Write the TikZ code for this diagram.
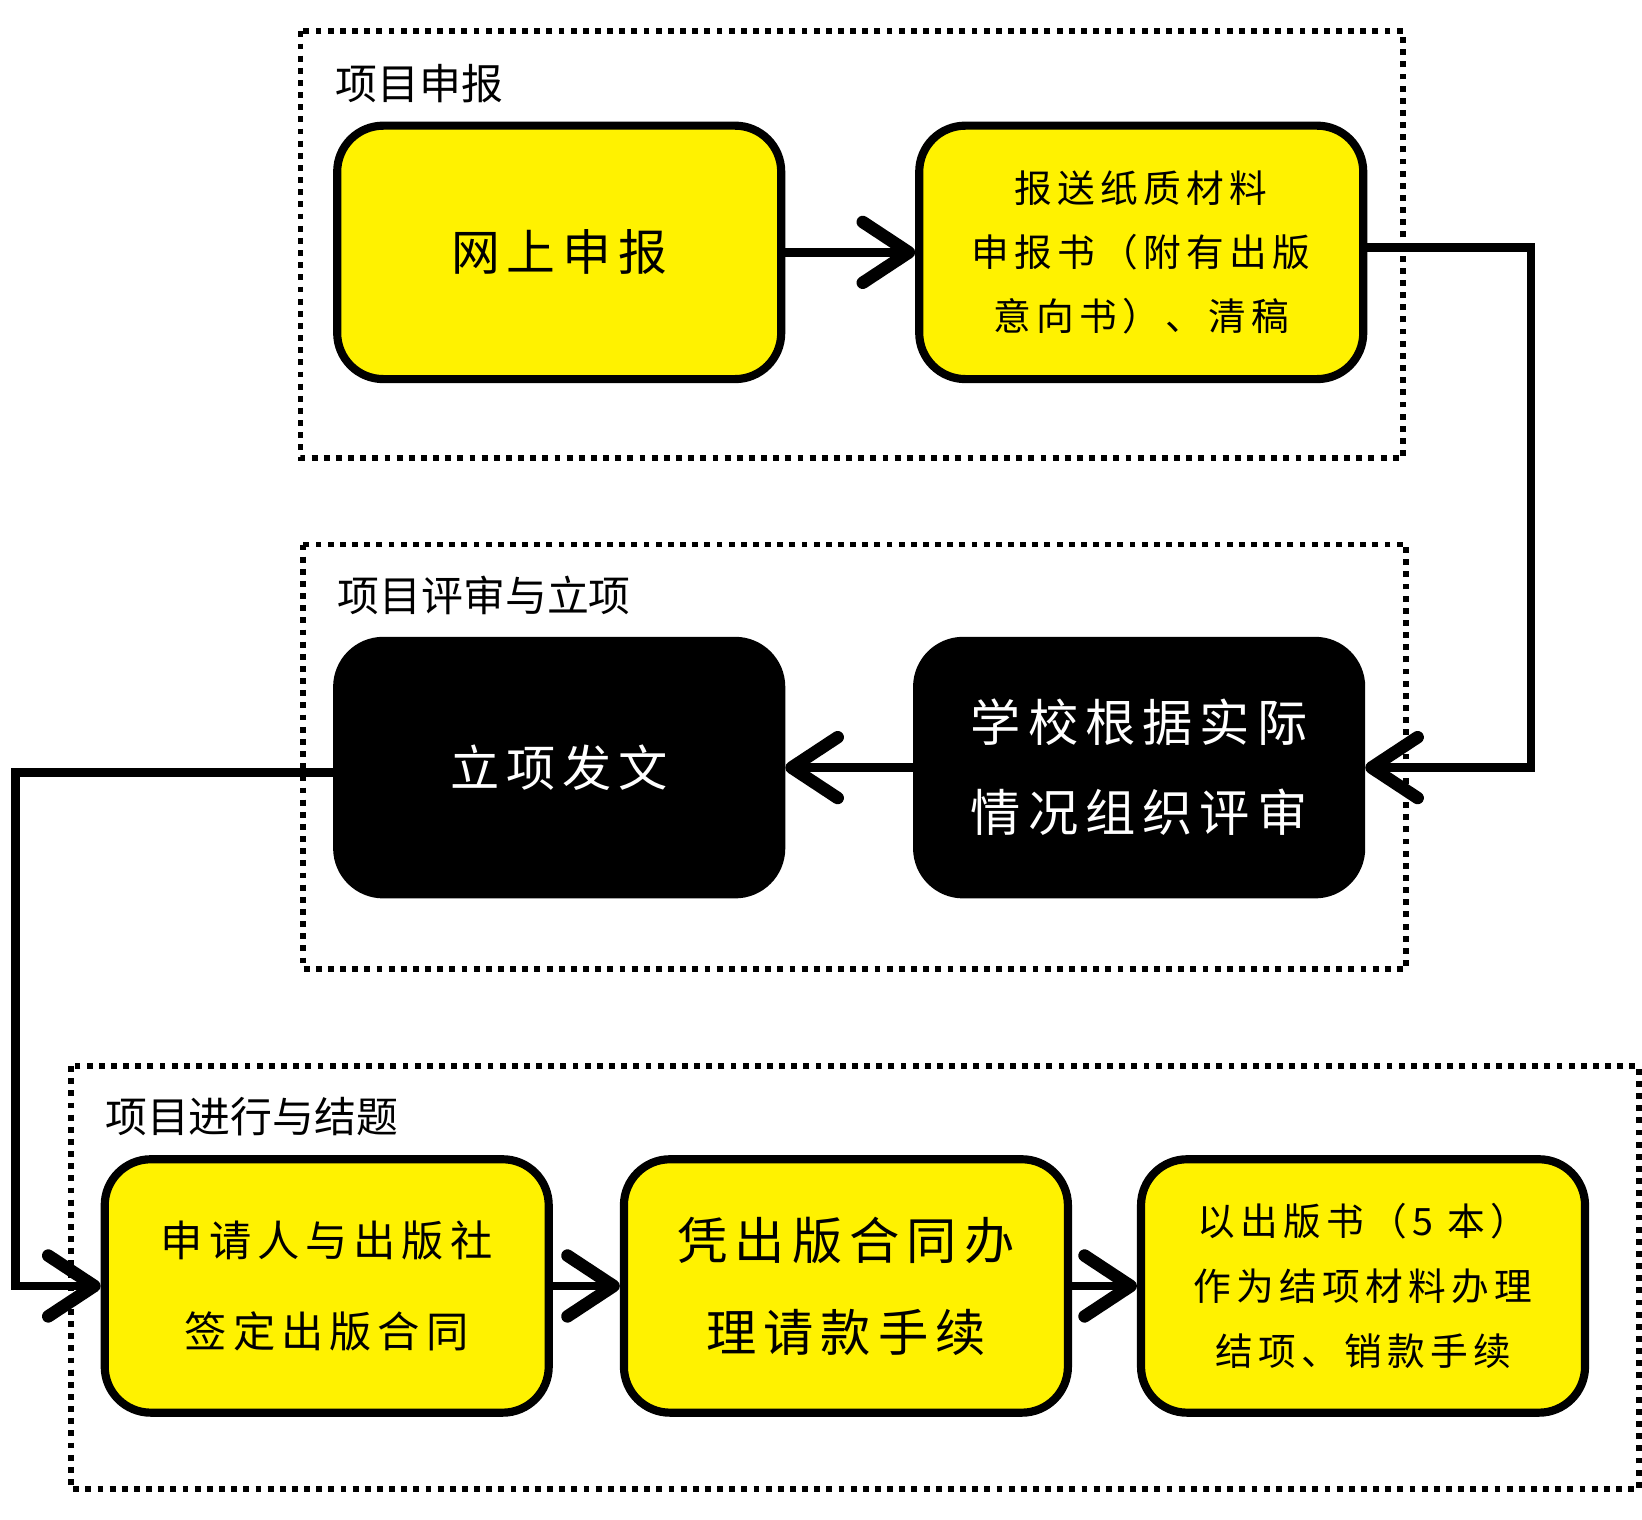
\documentclass[tikz,border=0pt]{standalone}
\usepackage{fontspec}
\setmainfont{Noto Sans CJK SC}
\newfontfamily\boxfont[LetterSpace=14]{Noto Sans CJK SC}
\usetikzlibrary{positioning,arrows.meta}

\tikzset{
    stage/.style={draw=black, line width=3.9pt, rounded corners=22pt, fill=yellow,
        minimum width=212pt, minimum height=121pt, align=center, inner sep=0pt},
    stagedark/.style={stage, fill=black, text=white},
    group/.style={draw=black, line width=2.8pt, dash pattern=on 2.8pt off 3pt},
    grouplabel/.style={anchor=west, inner sep=0pt, font=\fontsize{20pt}{24pt}\selectfont},
    flow/.style={line width=4.2pt, -{Straight Barb[length=22pt,width=29pt,line width=6pt,round]}},
}

\begin{document}
\begin{tikzpicture}[x=0.5pt, y=-0.5pt]
        \useasboundingbox (0,0) rectangle (1568,1451);
        \draw[group] (287,30) rectangle (1340,437);
        \draw[group] (289,520) rectangle (1343,925);
        \draw[group] (68,1018) rectangle (1565,1422);
        \node[grouplabel](G1) at (320,80){项目申报};
        \node[grouplabel](G2) at (322,569){项目评审与立项};
        \node[grouplabel](G3) at (100,1066){项目进行与结题};
        \begin{scope}[node distance=62pt]
            \node[stage, font=\boxfont\fontsize{23.3pt}{28pt}\selectfont](WS) at (534,241){网上申报};
            \node[stage, right=of WS, font=\boxfont\fontsize{18pt}{30.5pt}\selectfont](BS){报送纸质材料\\申报书（附有出版\\意向书）、清稿};
            \node[stagedark, font=\boxfont\fontsize{23.5pt}{28pt}\selectfont](LX) at (534,733){立项发文};
            \node[stagedark, right=61pt of LX, font=\boxfont\fontsize{24pt}{43pt}\selectfont](PS){学校根据实际\\情况组织评审};
            \node[stage, font=\boxfont\fontsize{20.2pt}{43.5pt}\selectfont](QY) at (312,1228){申请人与出版社\\签定出版合同};
            \node[stage, right=32pt of QY, font=\boxfont\fontsize{24pt}{44pt}\selectfont](QK){凭出版合同办\\理请款手续};
            \node[stage, right=31pt of QK, font=\boxfont\fontsize{18pt}{31pt}\selectfont](JX){以出版书（5 本）\\作为结项材料办理\\结项、销款手续};
        \end{scope}
        \coordinate(R) at (1462,236);
        \coordinate(L) at (15,738);
        \draw[flow] (WS)--(BS);
        \draw[flow] (BS.east |- R)--(R)|-(PS.east);
        \draw[flow] (PS)--(LX);
        \draw[flow] (LX.west |- L)--(L)|-(QY.west);
        \draw[flow] (QY)--(QK);
        \draw[flow] (QK)--(JX);
    \end{tikzpicture}
\end{document}
